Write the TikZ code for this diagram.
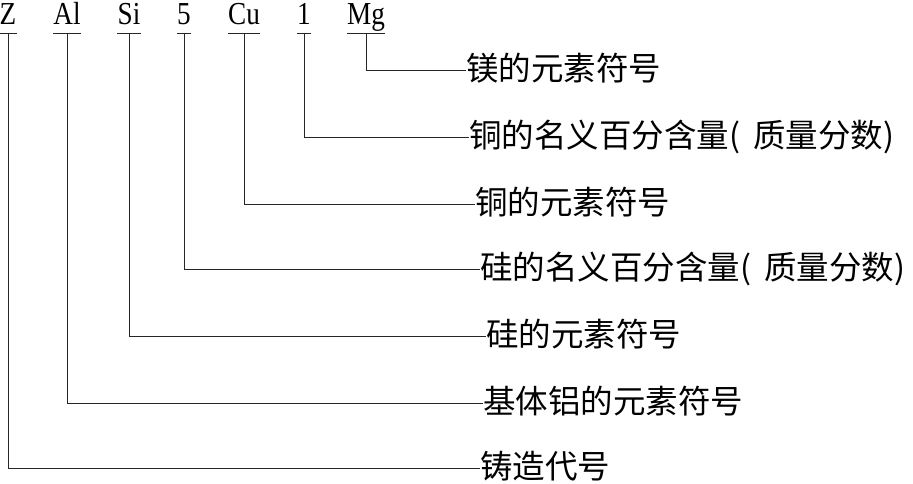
\documentclass[tikz,border=0pt]{standalone}
\usepackage{fontspec}
\setmainfont{Liberation Serif}[FakeStretch=0.85]
\newfontfamily\cjk{Noto Sans CJK SC}
\begin{document}
\begin{tikzpicture}[x=1pt,y=-1pt,
  sym/.style={anchor=base,inner sep=0pt,font=\fontsize{32}{32}\selectfont,text depth=0pt},
  lab/.style={anchor=west,inner sep=0pt,font=\cjk\fontsize{32.5}{32.5}\selectfont,text height=24pt,text depth=3pt},
  ln/.style={line width=0.8pt,draw=black!85}]
\useasboundingbox (0,0) rectangle (913,484);
% top symbols
\node[sym] (tZ)  at (8,25)   {Z};
\node[sym] (tAl) at (67,25)  {Al};
\node[sym] (tSi) at (129,25) {Si};
\node[sym] (t5)  at (184,25) {5};
\node[sym] (tCu) at (244,25) {Cu};
\node[sym] (t1)  at (304,25) {1};
\node[sym] (tMg) at (366,25) {Mg};
% labels
\node[lab] (lMg) at (466,70)  {镁的元素符号};
\node[lab] (l1)  at (469,137) {铜的名义百分含量(\hspace{0.4em}质量分数)};
\node[lab] (lCu) at (475,204) {铜的元素符号};
\node[lab] (l5)  at (480,269) {硅的名义百分含量(\hspace{0.4em}质量分数)};
\node[lab] (lSi) at (486,336) {硅的元素符号};
\node[lab] (lAl) at (483,403) {基体铝的元素符号};
\node[lab] (lZ)  at (480,468) {铸造代号};
% underlines and connectors
\foreach \n in {Z,Al,Si,5,Cu,1,Mg}{
  \coordinate (u\n) at ([yshift=-8pt]t\n.south);
  \draw[ln] ([yshift=-8pt]t\n.south west) -- ([yshift=-8pt]t\n.south east);
  \draw[ln] (u\n) |- (l\n.west);
}
\end{tikzpicture}
\end{document}
